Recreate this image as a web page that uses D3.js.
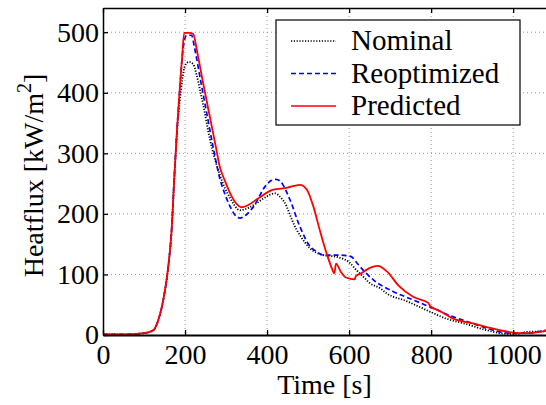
<!DOCTYPE html>
<html>
<head>
<meta charset="utf-8">
<script src="https://cdn.jsdelivr.net/npm/d3@7"></script>
<style>
body { margin:0; background:#fff; }
svg { display:block; }
text { font-family:"Liberation Serif","Times New Roman",serif; fill:#000; }
</style>
</head>
<body>
<svg width="546" height="405"></svg>
<script>
// time (s) and heatflux (kW/m2)
var nominalTime = [0,50,100,123,135,147,160,167,174,181,187,193,200,210,220,228,238,245,260,285,297,310,334,355,375,400,419,432,448,456,471,480,505,537,570,602,618,635,650,676,691,740,789,837,886,935,984,1010,1033,1080];
var nominalFlux = [1,1,3,8,25,58,118,170,262,340,385,420,445,451,447,430,400,378,325,264,243,226,206,210,218,229,234,228,212,198,175,165,143,132,129,119,107,96,86,77,69,56,41,27,18,8,2,2,5,6];

var reoptTime = [0,50,100,123,135,147,160,167,174,181,187,193,198,204,216,223,238,253,268,285,297,310,322,334,350,367,395,410,422,432,456,480,505,520,537,570,594,606,619,640,659,707,756,805,854,902,951,992,1033,1080];
var reoptFlux = [1,1,3,8,25,58,118,170,262,345,405,458,485,495,495,475,420,366,312,258,233,212,198,193,199,212,245,255,257,254,223,179,146,138,132,132,131,129,119,103,91,72,58,44,30,19,8,3,3,8];

var predTime = [0,50,100,123,135,147,160,167,174,181,187,193,198,210,220,230,245,260,275,285,297,310,324,338,355,379,415,448,480,497,513,529,546,558,564,568,580,592,614,616,630,643,670,692,720,756,793,797,820,854,902,967,1000,1033,1080];
var predFlux = [1,1,3,8,25,58,118,170,262,345,405,460,499,499,497,466,413,362,311,277,255,234,218,211,215,226,240,243,248,240,212,172,133,110,102,118,104,95,92,97,102,108,114,105,82,63,53,48,40,27,19,8,4,3,7];

var seriesNames = ["Nominal","Reoptimized","Predicted"];
var xTicks = [0,200,400,600,800,1000];
var yTicks = [0,100,200,300,400,500];

var drawChart = function()
{
    var svg = d3.select("svg");
    var plot = {left:103, right:546, top:8, bottom:335};

    var xScale = d3.scaleLinear()
        .domain([0,1080])
        .range([plot.left,plot.right]);
    var yScale = d3.scaleLinear()
        .domain([0,540])
        .range([plot.bottom,plot.top]);

    // dotted grid
    var grid = svg.append("g").classed("grid",true);
    grid.selectAll(".gx")
        .data(xTicks.slice(1))
        .enter()
        .append("line")
        .attr("x1",function(d){return xScale(d);})
        .attr("x2",function(d){return xScale(d);})
        .attr("y1",plot.top)
        .attr("y2",plot.bottom);
    grid.selectAll(".gy")
        .data(yTicks.slice(1))
        .enter()
        .append("line")
        .attr("x1",plot.left)
        .attr("x2",plot.right)
        .attr("y1",function(d){return yScale(d);})
        .attr("y2",function(d){return yScale(d);});
    grid.selectAll("line")
        .attr("stroke","#999")
        .attr("stroke-width",1)
        .attr("stroke-dasharray","1,3");

    // lines
    var series = [
        {name:seriesNames[0], t:nominalTime, v:nominalFlux, color:"#000", dash:"1.2,1.6", width:1.8},
        {name:seriesNames[1], t:reoptTime, v:reoptFlux, color:"#0000ff", dash:"5,3", width:1.7},
        {name:seriesNames[2], t:predTime, v:predFlux, color:"#ff0000", dash:null, width:1.8}
    ];

    var lineGenerator = d3.line()
        .x(function(p){return xScale(p[0]);})
        .y(function(p){return yScale(p[1]);})
        .curve(d3.curveMonotoneX);

    svg.append("defs").append("clipPath")
        .attr("id","clip")
        .append("rect")
        .attr("x",plot.left)
        .attr("y",plot.top)
        .attr("width",plot.right-plot.left)
        .attr("height",plot.bottom-plot.top);

    svg.append("g")
        .attr("clip-path","url(#clip)")
        .selectAll("path")
        .data(series)
        .enter()
        .append("path")
        .attr("fill","none")
        .attr("stroke",function(s){return s.color;})
        .attr("stroke-width",function(s){return s.width;})
        .attr("stroke-dasharray",function(s){return s.dash;})
        .attr("d",function(s){
            return lineGenerator(s.t.map(function(t,i){return [t,s.v[i]];}));
        });

    // axes with inward ticks
    var fmt = d3.format("d");
    var xAxis = d3.axisBottom(xScale).tickValues(xTicks).tickFormat(fmt)
        .tickSizeInner(-5).tickSizeOuter(0).tickPadding(9);
    var yAxis = d3.axisLeft(yScale).tickValues(yTicks).tickFormat(fmt)
        .tickSizeInner(-5).tickSizeOuter(0).tickPadding(4);
    var xTop = d3.axisTop(xScale).tickValues(xTicks)
        .tickSizeInner(-5).tickSizeOuter(0).tickFormat("");

    var gx = svg.append("g")
        .attr("transform","translate(0,"+plot.bottom+")")
        .call(xAxis);
    var gy = svg.append("g")
        .attr("transform","translate("+plot.left+",0)")
        .call(yAxis);
    var gt = svg.append("g")
        .attr("transform","translate(0,"+plot.top+")")
        .call(xTop);

    [gx,gy,gt].forEach(function(g){
        g.attr("font-family","Liberation Serif")
            .attr("font-size",28);
        g.selectAll("path,line").attr("stroke","#000").attr("stroke-width",1.3);
        g.selectAll("text").attr("fill","#000");
    });
    gx.select(".domain").attr("stroke-width",2);
    gy.select(".domain").attr("stroke-width",1.5);

    // labels
    svg.append("text")
        .text("Time [s]")
        .attr("x",(plot.left+plot.right)/2)
        .attr("y",394)
        .attr("text-anchor","middle")
        .style("font-size","28px");

    var ylab = svg.append("text")
        .attr("transform","translate(43,"+((plot.top+plot.bottom)/2+4)+") rotate(-90)")
        .attr("text-anchor","middle")
        .style("font-size","28px");
    ylab.append("tspan").text("Heatflux [kW/m");
    ylab.append("tspan").text("2").attr("dy",-12).style("font-size","20px");
    ylab.append("tspan").text("]").attr("dy",12);

    // legend
    var legend = svg.append("g").classed("legend",true);
    legend.append("rect")
        .attr("x",276).attr("y",20)
        .attr("width",244).attr("height",105)
        .attr("fill","#fff")
        .attr("stroke","#000")
        .attr("stroke-width",1.2);
    var rows = legend.selectAll(".row")
        .data(series)
        .enter()
        .append("g")
        .attr("transform",function(s,i){return "translate(0,"+(41+i*32.5)+")";});
    rows.append("line")
        .attr("x1",291).attr("x2",336)
        .attr("stroke",function(s){return s.color;})
        .attr("stroke-width",1.6)
        .attr("stroke-dasharray",function(s){return s.dash;});
    rows.append("text")
        .text(function(s){return s.name;})
        .attr("x",351)
        .attr("y",9)
        .style("font-size","29px");
}

drawChart();
</script>
</body>
</html>
